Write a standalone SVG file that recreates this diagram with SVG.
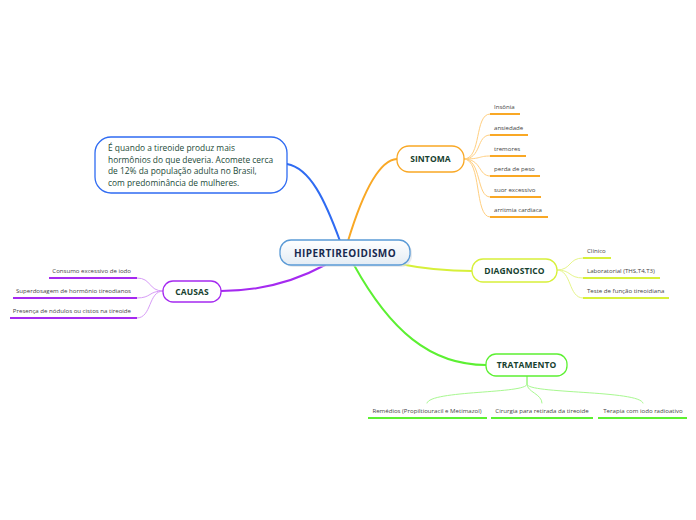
<svg xmlns="http://www.w3.org/2000/svg" width="696" height="520" viewBox="0 0 696 520">
<defs>
<linearGradient id="cg" x1="0" y1="0" x2="0" y2="1">
<stop offset="0" stop-color="#ffffff"/>
<stop offset="1" stop-color="#e4ecf4"/>
</linearGradient>
<style>
text{font-family:"Open Sans","Noto Sans","Liberation Sans",sans-serif}
.node{fill:#fff;stroke-width:1.3}
.ttl{font-size:8.5px;font-weight:bold;fill:#173f2f;text-anchor:middle;letter-spacing:0.1px}
.sub{font-size:6.1px;fill:#444}
.c{fill:none;stroke-linecap:round}
.ul{stroke-width:2;fill:none}
</style>
</defs>
<rect width="696" height="520" fill="#fff"/>
<g id="connectors">
<path class="c" d="M340 241 C325 200 310 168 287 164" stroke="#2f6bf2" stroke-width="2"/>
<path class="c" d="M348 241 C362 195 378 160 397 159" stroke="#f9a825" stroke-width="2"/>
<path class="c" d="M325 265 C290 284 255 291 221 291" stroke="#a52af0" stroke-width="2"/>
<path class="c" d="M400 264 C430 270 450 271 472 271" stroke="#d7f03a" stroke-width="2"/>
<path class="c" d="M354 265 C390 330 430 365 486 365" stroke="#5cf032" stroke-width="2"/>
<g stroke="#ffcf80" stroke-width="1">
<path class="c" d="M464 159 C482 159 474 114 490 114"/>
<path class="c" d="M464 159 C482 159 476 135 490 135"/>
<path class="c" d="M464 159 C482 159 478 156 490 156"/>
<path class="c" d="M464 159 C482 159 478 176 490 176"/>
<path class="c" d="M464 159 C482 159 476 197 490 197"/>
<path class="c" d="M464 159 C482 159 474 217 490 217"/>
</g>
<g stroke="#e6f58a" stroke-width="1">
<path class="c" d="M557 270 C572 270 568 258 583 258"/>
<path class="c" d="M557 270 C572 270 568 278 583 278"/>
<path class="c" d="M557 270 C572 270 568 298 583 298"/>
</g>
<g stroke="#d79cf7" stroke-width="1">
<path class="c" d="M163 291 C148 291 152 278 137 278"/>
<path class="c" d="M163 291 C148 291 152 298 137 298"/>
<path class="c" d="M163 291 C148 291 152 318 137 318"/>
</g>
<g stroke="#a8f890" stroke-width="1">
<path class="c" d="M527 376 L527 384 C527 394 430 390 427 403"/>
<path class="c" d="M527 376 L527 384 C527 392 542 394 542 403"/>
<path class="c" d="M527 376 L527 384 C527 394 640 390 643 403"/>
</g>
</g>
<g id="center">
<rect x="282" y="242" width="130" height="25" rx="11" fill="#d8dde3" opacity="0.6"/>
<rect x="280" y="240" width="130" height="25" rx="11" fill="url(#cg)" stroke="#5a9ad6" stroke-width="1.3"/>
<text x="345" y="256.5" text-anchor="middle" font-size="10" font-weight="bold" fill="#17294f" letter-spacing="0.4">HIPERTIREOIDISMO</text>
</g>
<g id="desc">
<rect x="95" y="137" width="192" height="56" rx="16" class="node" stroke="#2f6bf2"/>
<g font-size="8.4" fill="#1c4a38">
<text x="108" y="151">É quando a tireoide produz mais</text>
<text x="108" y="162.5">hormônios do que deveria. Acomete cerca</text>
<text x="108" y="174">de 12% da população adulta no Brasil,</text>
<text x="108" y="185.5">com predominância de mulheres.</text>
</g>
</g>
<g id="sintoma">
<rect x="397" y="146" width="67" height="26" rx="12" class="node" stroke="#f9a825"/>
<text x="430.5" y="162" class="ttl">SINTOMA</text>
</g>
<g id="sintoma-subs">
<g stroke="#f9a825" class="ul">
<path d="M490 114 H520"/><path d="M490 135 H528"/><path d="M490 156 H526"/>
<path d="M490 176 H540"/><path d="M490 197 H541"/><path d="M490 217 H548"/>
</g>
<text x="494" y="109" class="sub">Insônia</text>
<text x="494" y="130" class="sub">ansiedade</text>
<text x="494" y="151" class="sub">tremores</text>
<text x="494" y="171" class="sub">perda de peso</text>
<text x="494" y="192" class="sub">suor excessivo</text>
<text x="494" y="212" class="sub">arritmia cardiaca</text>
</g>
<g id="diagnostico">
<rect x="472" y="259" width="85" height="23" rx="11" class="node" stroke="#d7f03a"/>
<text x="514.5" y="273.5" class="ttl">DIAGNOSTICO</text>
</g>
<g id="diagnostico-subs">
<g stroke="#d7f03a" class="ul">
<path d="M583 258 H611"/><path d="M583 278 H660"/><path d="M583 298 H669"/>
</g>
<text x="587" y="253" class="sub">Clínico</text>
<text x="587" y="273" class="sub">Laboratorial (THS,T4,T3)</text>
<text x="587" y="293" class="sub">Teste de função tireoidiana</text>
</g>
<g id="causas">
<rect x="163" y="281" width="58" height="21" rx="10" class="node" stroke="#a52af0"/>
<text x="192" y="294.5" class="ttl">CAUSAS</text>
</g>
<g id="causas-subs">
<g stroke="#a52af0" class="ul">
<path d="M49 278 H137"/><path d="M13 298 H137"/><path d="M10 318 H137"/>
</g>
<g text-anchor="end">
<text x="131" y="273" class="sub">Consumo excessivo de iodo</text>
<text x="131" y="293" class="sub">Superdosagem de hormônio tireodianos</text>
<text x="131" y="313" class="sub">Presença de nódulos ou cistos na tireoide</text>
</g>
</g>
<g id="tratamento">
<rect x="486" y="354" width="81" height="22" rx="10" class="node" stroke="#5cf032"/>
<text x="526.5" y="368" class="ttl">TRATAMENTO</text>
</g>
<g id="tratamento-subs">
<g stroke="#5cf032" class="ul">
<path d="M368 418 H487"/><path d="M491 418 H593"/><path d="M598 418 H687"/>
</g>
<g text-anchor="middle">
<text x="427" y="413" class="sub">Remédios (Propiltiouracil e Metimazol)</text>
<text x="542" y="413" class="sub">Cirurgia para retirada da tireoide</text>
<text x="643" y="413" class="sub">Terapia com iodo radioativo</text>
</g>
</g>
</svg>
